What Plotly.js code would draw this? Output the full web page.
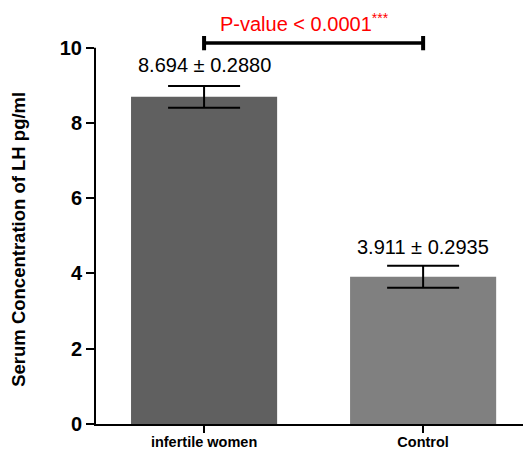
<!DOCTYPE html>
<html>
<head>
<meta charset="utf-8">
<script src="https://cdn.plot.ly/plotly-3.0.1.min.js"></script>
<style>html,body{margin:0;padding:0;background:#fff;}#chart{width:523px;height:450px;}</style>
</head>
<body>
<div id="chart"></div>
<script>
// ---- data ----
const categories = ['infertile women', 'Control'];
const means = [8.694, 3.911];
const sems = [0.2880, 0.2935];
const barColors = ['#606060', '#808080'];
const yTickVals = [0, 2, 4, 6, 8, 10];
const yTitle = 'Serum Concentration of LH pg/ml';
const pText = 'P-value < 0.0001<sup>***</sup>';

// ---- layout constants ----
const FONT = 'Liberation Sans, Arial, Helvetica, sans-serif';
const yMax = 11;
const yTop = 10;
const sigY = 10.12;
const capH = 0.19;

const trace = {
  type: 'bar',
  x: categories,
  y: means,
  width: 0.667,
  marker: { color: barColors, line: { width: 0 } },
  error_y: { type: 'data', array: sems, visible: true, color: '#000', thickness: 2, width: 36 },
  hoverinfo: 'none'
};

const annotations = categories.map((c, i) => ({
  x: c, y: means[i] + sems[i], xref: 'x', yref: 'y',
  text: means[i].toFixed(3) + ' ± ' + sems[i].toFixed(4),
  showarrow: false, yanchor: 'middle', yshift: i === 0 ? 21 : 19,
  font: { family: FONT, size: 20, color: '#000' }
}));

annotations.push({
  x: 0.5, y: sigY, xref: 'x', yref: 'y',
  text: pText, showarrow: false, yanchor: 'middle', yshift: 21, xshift: -9,
  font: { family: FONT, size: 20, color: '#ff0000' }
});

annotations.push({
  x: -0.1776, y: yTop / 2, xref: 'paper', yref: 'y',
  text: '<b>' + yTitle + '</b>', textangle: -90, showarrow: false,
  xanchor: 'center', yanchor: 'middle', yshift: -3,
  font: { family: FONT, size: 18.5, color: '#000' }
});

const shapes = [
  { type: 'line', xref: 'paper', yref: 'paper', x0: 0, x1: 0, y0: -0.005, y1: yTop / yMax, line: { color: '#000', width: 2 } },
  { type: 'line', xref: 'x', yref: 'y', x0: 0, x1: 1, y0: sigY, y1: sigY, line: { color: '#000', width: 3.5 } },
  { type: 'line', xref: 'x', yref: 'y', x0: 0, x1: 0, y0: sigY - capH, y1: sigY + capH, line: { color: '#000', width: 4 } },
  { type: 'line', xref: 'x', yref: 'y', x0: 1, x1: 1, y0: sigY - capH, y1: sigY + capH, line: { color: '#000', width: 4 } }
];

const layout = {
  width: 523, height: 450,
  margin: { l: 95, r: 0, t: 10, b: 26, pad: 0 },
  paper_bgcolor: '#fff', plot_bgcolor: '#fff',
  showlegend: false,
  font: { family: FONT, color: '#000' },
  xaxis: {
    type: 'category', range: [-0.498, 1.456],
    showline: true, linecolor: '#000', linewidth: 2,
    ticks: 'outside', ticklen: 7, tickwidth: 2, tickcolor: '#000',
    ticklabelstandoff: -3,
    tickfont: { family: FONT, size: 14.5, color: '#000', weight: 'bold' },
    showgrid: false, zeroline: false, automargin: false, fixedrange: true
  },
  yaxis: {
    range: [0, yMax], tickvals: yTickVals, ticktext: yTickVals.map(String),
    showline: false, ticks: 'outside', ticklen: 8, tickwidth: 2, tickcolor: '#000',
    tickfont: { family: FONT, size: 20, color: '#000', weight: 'bold' },
    showgrid: false, zeroline: false, automargin: false, fixedrange: true
  },
  annotations: annotations,
  shapes: shapes
};

Plotly.newPlot('chart', [trace], layout, { displayModeBar: false, staticPlot: true });
</script>
</body>
</html>
